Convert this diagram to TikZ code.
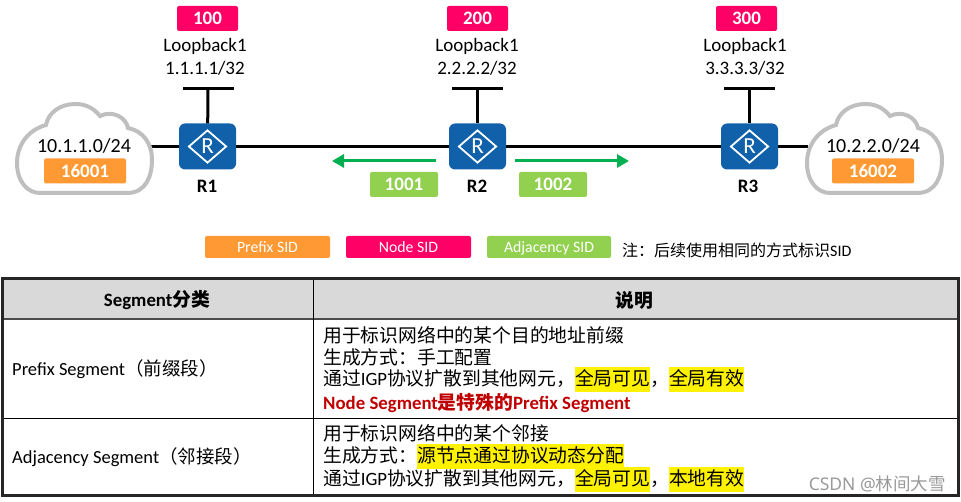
\documentclass[tikz,border=0pt]{standalone}
\usepackage{fontspec}
\setmainfont{Carlito}
\newfontfamily\cjk{Noto Sans CJK SC}
\newfontfamily\markfont{Noto Sans}
\usetikzlibrary{arrows.meta,shapes.geometric}
\definecolor{sidorange}{HTML}{FF9933}
\definecolor{sidpink}{HTML}{FF0066}
\definecolor{sidgreen}{HTML}{92D050}
\definecolor{routerblue}{HTML}{1061AA}
\definecolor{arrowgreen}{HTML}{00B050}
\definecolor{headgray}{HTML}{D9D9D9}
\definecolor{cloudgray}{HTML}{BFBFBF}
\definecolor{notered}{HTML}{C00000}
\newcommand{\fsize}[1]{\fontsize{#1}{#1}\selectfont}
\newcommand{\hlbox}[1]{{\setlength{\fboxsep}{0pt}\colorbox{yellow}{\rule[-6pt]{0pt}{25pt}\cjk #1}}}
\tikzset{
  sidtag/.style={rounded corners=2pt, inner sep=0pt, text=white, font=\fsize{19}\bfseries, minimum height=25, text height=14, text depth=1},
  nodetag/.style={sidtag, fill=sidpink, minimum width=61},
  prefixtag/.style={sidtag, fill=sidorange, minimum width=82},
  adjtag/.style={sidtag, fill=sidgreen, minimum width=68},
  legendtag/.style={rounded corners=2pt, inner sep=0pt, text=white, font=\fsize{15.8}, minimum width=125, minimum height=22, text height=14, text depth=2},
  lbtext/.style={anchor=base, inner sep=0pt, font=\fsize{19}},
  lbbar/.style={fill=black, inner sep=0pt, minimum width=51, minimum height=3},
  router/.style={fill=routerblue, rounded corners=6pt, inner sep=0pt, minimum width=57, minimum height=46},
  routermark/.style={diamond, draw=white, line width=1.8pt, inner sep=0pt, minimum width=38, minimum height=33, text=white, font=\fsize{23}},
  rname/.style={inner sep=0pt, font=\fsize{19}\bfseries},
  link/.style={line width=3pt},
  sidarrow/.style={arrowgreen, line width=3pt, -{Triangle[length=12,width=13]}},
  cell/.style={anchor=west, inner sep=0pt, font=\fsize{18.8}},
  netcloud/.pic={
    \draw[cloudgray, line width=4pt, fill=white]
      (40,193) -- (127,193) .. controls (146,193) and (152,176) .. (152,160)
      .. controls (152,143) and (143,131) .. (128,128)
      .. controls (126,117) and (112,110) .. (100,116)
      .. controls (92,106) and (83,104) .. (75,104)
      .. controls (60,104) and (48,113) .. (46,125)
      .. controls (28,130) and (17,145) .. (17,163)
      .. controls (17,181) and (27,193) .. (40,193) -- cycle;
  }
}
\begin{document}
\begin{tikzpicture}[x=1pt,y=-1pt]
  \useasboundingbox (0,0) rectangle (961,502);

  \node[router] (R1) at (207.5,146.5) {};
  \node[router] (R2) at (477.5,146.5) {};
  \node[router] (R3) at (749.5,146.5) {};
  \node[routermark] at (R1) {R};
  \node[routermark] at (R2) {R};
  \node[routermark] at (R3) {R};
  \node[rname] at (207,186) {R1};
  \node[rname] at (477,186) {R2};
  \node[rname] at (748,186) {R3};

  \coordinate (cloudA) at (150,146.5);
  \coordinate (cloudB) at (808,146.5);
  \draw[link] (cloudA) -- (R1);
  \draw[link] (R1) -- (R2);
  \draw[link] (R2) -- (R3);
  \draw[link] (R3) -- (cloudB);
  \pic at (0,0) {netcloud};
  \pic at (790,0) {netcloud};
  \node[lbtext, font=\fsize{20}] at (84,153) {10.1.1.0/24};
  \node[lbtext, font=\fsize{20}] at (873,153) {10.2.2.0/24};
  \node[prefixtag] (P1) at (85,171) {16001};
  \node[prefixtag] (P2) at (873,171) {16002};

  \node[nodetag] (N1) at (207.5,18.5) {100};
  \node[nodetag] (N2) at (477.5,18.5) {200};
  \node[nodetag] (N3) at (746.5,18.5) {300};
  \node[lbtext] at (205,52) {Loopback1};
  \node[lbtext] at (477,52) {Loopback1};
  \node[lbtext] at (745,52) {Loopback1};
  \node[lbtext] at (205,75) {1.1.1.1/32};
  \node[lbtext] at (477,75) {2.2.2.2/32};
  \node[lbtext] at (745,75) {3.3.3.3/32};
  \node[lbbar] (LB1) at (208,88.5) {};
  \node[lbbar] (LB2) at (477.5,88.5) {};
  \node[lbbar] (LB3) at (749.5,88.5) {};
  \draw[link] (LB1) -- (R1);
  \draw[link] (LB2) -- (R2);
  \draw[link] (LB3) -- (R3);

  \coordinate (adjAs) at (436,161);
  \coordinate (adjAe) at (332,161);
  \coordinate (adjBs) at (515,161);
  \coordinate (adjBe) at (629,161);
  \draw[sidarrow] (adjAs) -- (adjAe);
  \draw[sidarrow] (adjBs) -- (adjBe);
  \node[adjtag] (A1) at (404,184.5) {1001};
  \node[adjtag] (A2) at (553,184.5) {1002};

  \node[legendtag, fill=sidorange] (LP) at (267.5,247) {Prefix SID};
  \node[legendtag, fill=sidpink] (LN) at (408.5,247) {Node SID};
  \node[legendtag, fill=sidgreen, minimum width=124] (LA) at (549,247) {Adjacency SID};
  \node[anchor=west, inner sep=0pt, font=\fsize{16}] (note) at (622,250) {{\cjk 注：后续使用相同的方式标识}SID};

  \fill[headgray] (2,279) rectangle (958,319);
  \draw[line width=1.2pt, black!70] (2,319) -- (958,319);
  \draw[line width=1pt] (2,418.5) -- (958,418.5);
  \draw[line width=1pt] (313.5,279) -- (313.5,495);
  \node[font=\fsize{18.8}\bfseries, inner sep=0pt] at (157,300) {Segment{\cjk 分类}};
  \node[font=\cjk\fsize{18.8}\bfseries, inner sep=0pt] at (634,300) {说明};

  \node[cell, font=\fsize{18.5}] at (12,369) {Prefix Segment{\cjk （前缀段）}};
  \node[cell, font=\fsize{18.5}] at (12,457) {Adjacency Segment{\cjk （邻接段）}};

  \node[cell] at (323,335) {\cjk 用于标识网络中的某个目的地址前缀};
  \node[cell] at (323,357) {\cjk 生成方式：手工配置};
  \node[cell] at (323,379) {{\cjk 通过}IGP{\cjk 协议扩散到其他网元，}\hlbox{全局可见}{\cjk ，}\hlbox{全局有效}};
  \node[cell, text=notered, font=\fsize{18.8}\bfseries] at (323,403) {Node Segment{\cjk 是特殊的}Prefix Segment};
  \node[cell] at (323,433) {\cjk 用于标识网络中的某个邻接};
  \node[cell] at (323,456) {{\cjk 生成方式：}\hlbox{源节点通过协议动态分配}};
  \node[cell] at (323,479) {{\cjk 通过}IGP{\cjk 协议扩散到其他网元，}\hlbox{全局可见}{\cjk ，}\hlbox{本地有效}};

  \draw[line width=3pt, black!85] (2,279) rectangle (958,495);
  \node[anchor=east, inner sep=0pt, text=black!40, font=\fsize{17.5}] at (946,484) {{\markfont CSDN @}{\cjk 林间大雪}};
\end{tikzpicture}
\end{document}
